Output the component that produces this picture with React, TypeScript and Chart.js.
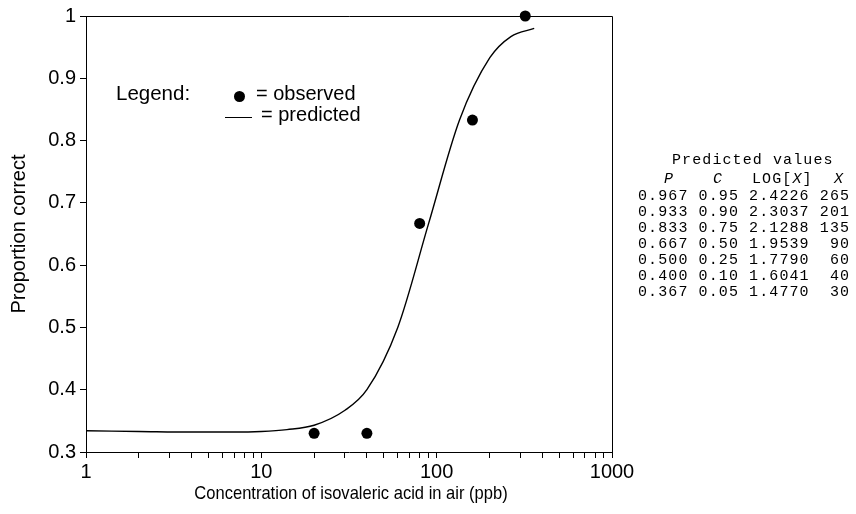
import { useEffect, useRef } from 'react';
import { Chart, registerables } from 'chart.js';

Chart.register(...registerables);

// Observed proportion correct at each tested concentration (ppb)
const observedConc = [20, 40, 80, 160, 320];
const observedProp = [0.33, 0.33, 0.667, 0.833, 1.0];

// Predicted values table (P = proportion correct, C = corrected proportion)
const tableP = ['0.967', '0.933', '0.833', '0.667', '0.500', '0.400', '0.367'];
const tableC = ['0.95', '0.90', '0.75', '0.50', '0.25', '0.10', '0.05'];
const tableLog = ['2.4226', '2.3037', '2.1288', '1.9539', '1.7790', '1.6041', '1.4770'];
const tableX = ['265', '201', '135', '90', '60', '40', '30'];

// Fitted curve beyond the tabulated range
const curveLowConc = [1, 2, 4, 7, 10, 14, 20];
const curveLowProp = [0.334, 0.333, 0.332, 0.332, 0.333, 0.336, 0.343];
const curveHighConc = [360];
const curveHighProp = [0.98];

// Axis ticks
const xMajorTicks = [1, 10, 100, 1000];
const xMinorSteps = [2, 3, 4, 5, 6, 7, 8, 9];
const yTicks = [0.3, 0.4, 0.5, 0.6, 0.7, 0.8, 0.9, 1.0];

const xTitle = 'Concentration of isovaleric acid in air (ppb)';
const yTitle = 'Proportion correct';

const SANS = '"Liberation Sans", Arial, Helvetica, sans-serif';
const MONO = '"Liberation Mono", "Courier New", monospace';

const xTickValues = [
  ...xMajorTicks.slice(0, -1).flatMap((d) => [d, ...xMinorSteps.map((m) => d * m)]),
  xMajorTicks[xMajorTicks.length - 1],
];

const observedPoints = observedConc.map((x, i) => ({ x, y: observedProp[i] }));

const predictedPoints = [
  ...curveLowConc.map((x, i) => ({ x, y: curveLowProp[i] })),
  ...tableX
    .map((x, i) => ({ x: Number(x), y: Number(tableP[i]) }))
    .reverse(),
  ...curveHighConc.map((x, i) => ({ x, y: curveHighProp[i] })),
];

// Closes the plot box along the top and right edges
const framePlugin = {
  id: 'frame',
  beforeDatasetsDraw(chart: any) {
    const { ctx, chartArea } = chart;
    ctx.save();
    ctx.strokeStyle = '#000';
    ctx.lineWidth = 1;
    ctx.beginPath();
    ctx.moveTo(chartArea.left, Math.round(chartArea.top) + 0.5);
    ctx.lineTo(Math.round(chartArea.right) + 0.5, Math.round(chartArea.top) + 0.5);
    ctx.lineTo(Math.round(chartArea.right) + 0.5, chartArea.bottom);
    ctx.stroke();
    ctx.restore();
  },
};

function PredictedTable() {
  const rowTop = 196.7;
  const rowStep = 16.1;
  const lineStyle = (center: number, left = 0): React.CSSProperties => ({
    position: 'absolute',
    left,
    top: center - 8,
    height: 16,
    lineHeight: '16px',
    whiteSpace: 'pre',
  });
  const headCenter = (center: number, cx: number): React.CSSProperties => ({
    ...lineStyle(center, cx),
    transform: 'translateX(-50%)',
  });
  return (
    <div
      style={{
        position: 'absolute',
        left: 638,
        top: 0,
        fontFamily: MONO,
        fontSize: 15,
        letterSpacing: '1.1px',
        color: '#000',
      }}
    >
      <div style={lineStyle(160.5, 34)}>Predicted values</div>
      <div style={headCenter(180, 31)}>
        <i>P</i>
      </div>
      <div style={headCenter(180, 80)}>
        <i>C</i>
      </div>
      <div style={lineStyle(180, 114)}>
        {'LOG['}
        <i>X</i>
        {']'}
      </div>
      <div style={headCenter(180, 201)}>
        <i>X</i>
      </div>
      {tableP.map((p, i) => (
        <div key={p} style={lineStyle(rowTop + i * rowStep)}>
          {`${p} ${tableC[i]} ${tableLog[i]} ${tableX[i].padStart(3, ' ')}`}
        </div>
      ))}
    </div>
  );
}

function LegendBox() {
  const text: React.CSSProperties = {
    position: 'absolute',
    fontFamily: SANS,
    lineHeight: '20px',
    whiteSpace: 'nowrap',
    color: '#000',
  };
  return (
    <>
      <div style={{ ...text, left: 116, top: 83, fontSize: 20.5 }}>Legend:</div>
      <div
        style={{
          position: 'absolute',
          left: 239.3 - 5.5,
          top: 96.3 - 5.5,
          width: 11,
          height: 11,
          borderRadius: '50%',
          background: '#000',
        }}
      />
      <div style={{ ...text, left: 256, top: 83, fontSize: 20 }}>= observed</div>
      <div
        style={{
          position: 'absolute',
          left: 225,
          top: 116.5,
          width: 27,
          height: 1.4,
          background: '#000',
        }}
      />
      <div style={{ ...text, left: 261, top: 103.6, fontSize: 20 }}>= predicted</div>
    </>
  );
}

export default function App() {
  const canvasRef = useRef<HTMLCanvasElement>(null);

  useEffect(() => {
    if (!canvasRef.current) return;
    const chart = new Chart(canvasRef.current, {
      type: 'scatter',
      data: {
        datasets: [
          {
            type: 'line',
            data: predictedPoints,
            borderColor: '#000',
            borderWidth: 1.4,
            pointRadius: 0,
            fill: false,
            cubicInterpolationMode: 'monotone',
            clip: false as any,
            order: 2,
          } as any,
          {
            data: observedPoints,
            pointRadius: 5.5,
            pointBackgroundColor: '#000',
            pointBorderColor: '#000',
            pointBorderWidth: 0,
            showLine: false,
            clip: false as any,
            order: 1,
          },
        ],
      },
      options: {
        responsive: false,
        animation: false,
        events: [],
        layout: { padding: { top: 16, right: 244, left: 0, bottom: 0 } },
        plugins: {
          legend: { display: false },
          tooltip: { enabled: false },
        },
        scales: {
          x: {
            type: 'logarithmic',
            min: 1,
            max: 1000,
            afterBuildTicks: (scale: any) => {
              scale.ticks = xTickValues.map((value) => ({ value }));
            },
            afterFit: (scale: any) => {
              scale.height = 62;
            },
            ticks: {
              autoSkip: false,
              maxRotation: 0,
              padding: 2,
              color: '#000',
              font: { family: SANS, size: 20 },
              callback: (value: any) => (xMajorTicks.includes(Number(value)) ? String(value) : ''),
            },
            grid: {
              drawOnChartArea: false,
              drawTicks: true,
              tickLength: 6,
              color: '#000',
              lineWidth: 1,
            },
            border: { display: true, color: '#000', width: 1 },
            title: { display: false },
          },
          y: {
            type: 'linear',
            min: 0.3,
            max: 1,
            afterBuildTicks: (scale: any) => {
              scale.ticks = yTicks.map((value) => ({ value }));
            },
            afterFit: (scale: any) => {
              scale.width = 86;
            },
            ticks: {
              padding: 4,
              color: '#000',
              font: { family: SANS, size: 20 },
              callback: (value: any) => (Number(value) === 1 ? '1' : Number(value).toFixed(1)),
            },
            grid: {
              drawOnChartArea: false,
              drawTicks: true,
              tickLength: 6,
              color: '#000',
              lineWidth: 1,
            },
            border: { display: true, color: '#000', width: 1 },
            title: {
              display: true,
              text: yTitle,
              color: '#000',
              font: { family: SANS, size: 20 },
              padding: { top: 7, bottom: 0 },
            },
          },
        },
      },
      plugins: [framePlugin],
    });
    return () => chart.destroy();
  }, []);

  return (
    <div
      style={{
        position: 'fixed',
        left: 0,
        top: 0,
        width: 856,
        height: 514,
        background: '#fff',
      }}
    >
      <canvas
        ref={canvasRef}
        width={856}
        height={514}
        style={{ position: 'absolute', left: 0, top: 0, width: 856, height: 514 }}
      />
      <div
        style={{
          position: 'absolute',
          left: 351,
          top: 493,
          fontFamily: SANS,
          fontSize: 19,
          lineHeight: '20px',
          whiteSpace: 'nowrap',
          color: '#000',
          transform: 'translate(-50%, -50%) scaleX(0.87)',
        }}
      >
        {xTitle}
      </div>
      <LegendBox />
      <PredictedTable />
    </div>
  );
}
